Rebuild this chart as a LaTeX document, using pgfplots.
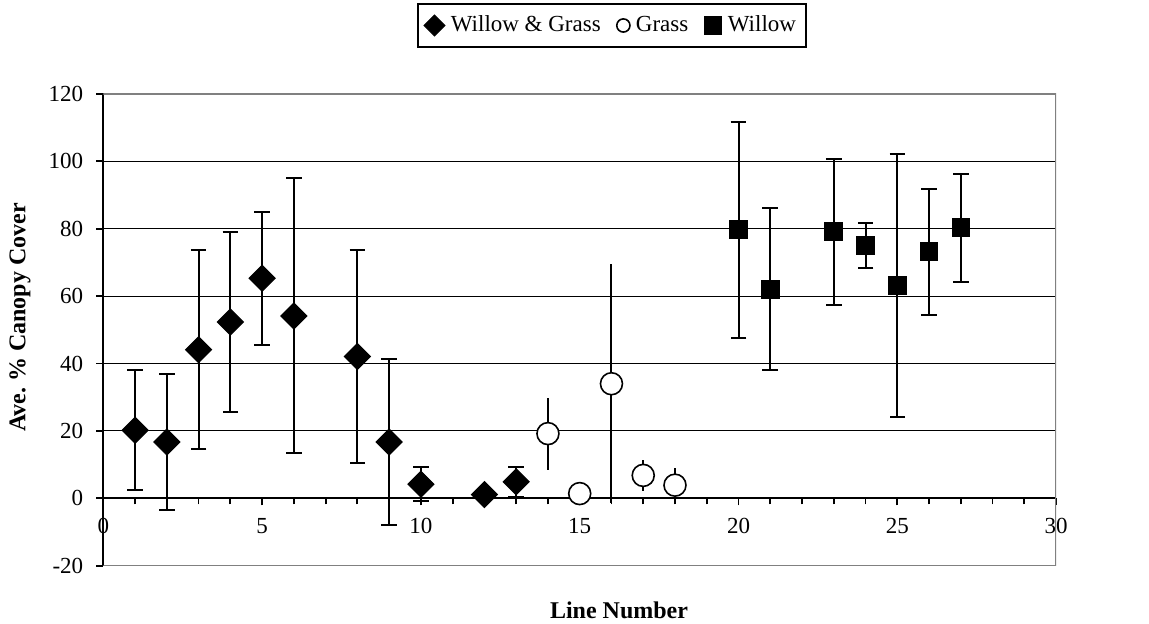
\documentclass[border=0pt]{standalone}
\usepackage{fontspec}
\setmainfont{Liberation Serif}
\usepackage{pgfplots}
\usepackage{pgfplotstable}
\pgfplotsset{compat=1.18}

\pgfplotstableread{
x y e
1 20.2 17.8
2 16.7 20.1
3 44.1 29.6
4 52.3 26.6
5 65.3 19.8
6 54.1 40.8
8 42.1 31.6
9 16.7 24.6
10 4.2 5.0
12 1.1 0.5
13 4.9 4.5
}\willowgrass

\pgfplotstableread{
x y e
14 19.2 10.7
15 1.4 0.5
16 34.0 35.5
17 6.8 4.7
18 3.9 5.1
}\grass

\pgfplotstableread{
x y e
20 79.7 32.0
21 62.0 24.0
23 79.1 21.7
24 75.0 6.8
25 63.1 39.1
26 73.2 18.7
27 80.3 16.0
}\willow

\begin{document}
\begin{tikzpicture}
\path[use as bounding box] (-51.65pt,-28.65pt) rectangle (522.85pt,282.85pt);
\begin{axis}[
  at={(0pt,0pt)}, anchor=south west,
  scale only axis, width=476.4pt, height=235.9pt,
  xmin=0, xmax=30, ymin=-20, ymax=120,
  axis x line=middle, axis y line=left,
  axis line style={-, line width=1pt, black},
  hide obscured x ticks=false, hide obscured y ticks=false,
  xtick={0,5,...,30}, ytick={-20,0,...,120},
  minor x tick num=4,
  tick align=outside,
  major tick length=3.5pt, minor tick length=3pt,
  tick style={black, line width=0.9pt},
  ymajorgrids, grid style={black, line width=0.5pt},
  /pgf/number format/assume math mode=true,
  tick label style={font=\fontsize{11.5}{13}\selectfont},
  xticklabel style={yshift=-3pt},
  yticklabel style={xshift=-3pt},
  xlabel={Line Number}, ylabel={Ave.\ \% Canopy Cover},
  every axis x label/.style={at={(axis description cs:0.5413,-0.0939)}, anchor=center, font=\bfseries\fontsize{12}{14}\selectfont},
  every axis y label/.style={at={(axis description cs:-0.0874,0.526)}, anchor=center, rotate=90, font=\bfseries\fontsize{12}{14}\selectfont},
  legend style={at={(axis description cs:0.5339,1.145)}, anchor=center, draw=black, line width=1pt,
    font=\fontsize{11.5}{13}\selectfont, legend columns=3,
    /tikz/every odd column/.append style={column sep=1pt},
    /tikz/every even column/.append style={column sep=6pt},
    inner xsep=3pt, inner ysep=4pt},
  legend cell align=left,
]
\draw[gray, line width=1pt] (rel axis cs:0,0) -- (rel axis cs:1,0) -- (rel axis cs:1,1) -- (rel axis cs:0,1);

\addplot[only marks, line width=1pt, mark=square*, mark size=4.6pt, mark options={rotate=45, fill=black, draw=black, line width=0.5pt},
  legend image code/.code={\draw[mark size=3.7pt] plot coordinates {(0.15cm,0cm)};},
  error bars/.cd, y dir=both, y explicit,
  error bar style={line width=1pt, black},
  error mark options={rotate=90, mark size=3.9pt, line width=1pt, black}]
  table[x=x, y=y, y error=e] {\willowgrass};
\addlegendentry{Willow \& Grass}
\addplot[only marks, line width=1pt, mark=*, mark size=5.5pt, mark options={fill=white, draw=black, line width=0.8pt},
  legend image code/.code={\draw[mark size=3.3pt] plot coordinates {(0.15cm,0cm)};},
  error bars/.cd, y dir=both, y explicit, error mark=none,
  error bar style={line width=1pt, black}]
  table[x=x, y=y, y error=e] {\grass};
\addlegendentry{Grass}
\addplot[only marks, line width=1pt, mark=square*, mark size=4.4pt, mark options={fill=black, draw=black, line width=0.5pt},
  legend image code/.code={\draw[mark size=4.4pt] plot coordinates {(0.15cm,0cm)};},
  error bars/.cd, y dir=both, y explicit,
  error bar style={line width=1pt, black},
  error mark options={rotate=90, mark size=3.9pt, line width=1pt, black}]
  table[x=x, y=y, y error=e] {\willow};
\addlegendentry{Willow}
\end{axis}
\end{tikzpicture}
\end{document}
